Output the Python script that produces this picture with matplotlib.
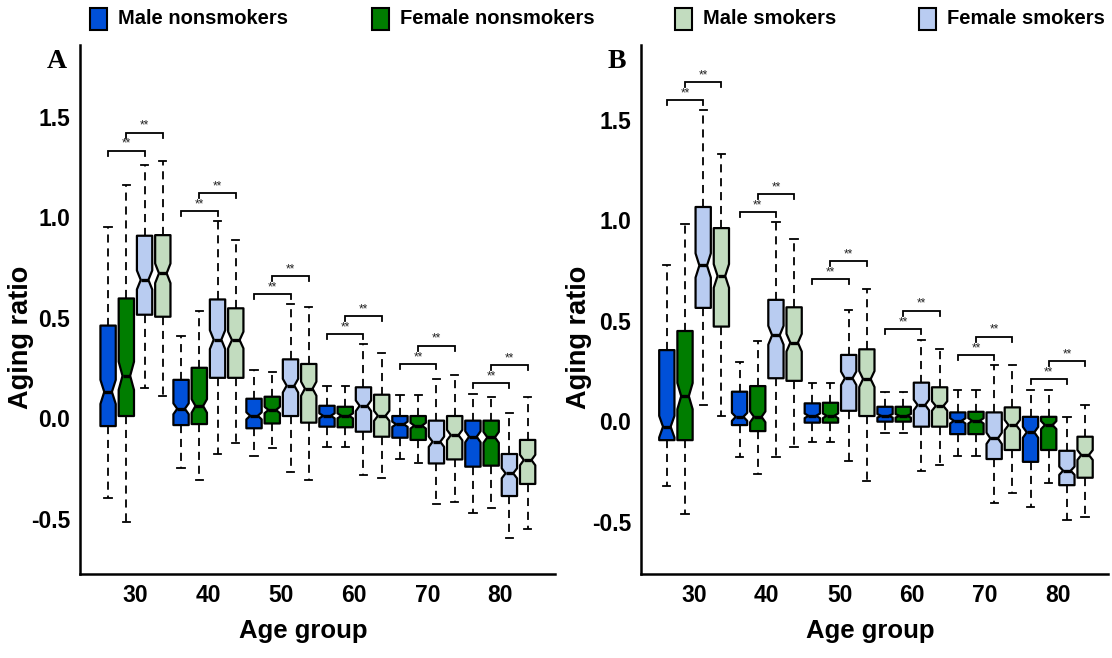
import matplotlib
matplotlib.use('Agg')
import matplotlib.pyplot as plt
from matplotlib.patches import Rectangle

# ---------------- data ----------------
age_groups = ['30', '40', '50', '60', '70', '80']
# each tuple: (whisker low, Q1, median, Q3, whisker high)
A_male_nonsmokers = [(-0.40, -0.04, 0.13, 0.46, 0.95), (-0.25, -0.035, 0.046, 0.19, 0.41),
                     (-0.19, -0.051, 0.011, 0.096, 0.239), (-0.143, -0.043, 0.011, 0.061, 0.161),
                     (-0.204, -0.098, -0.031, 0.01, 0.114), (-0.474, -0.242, -0.093, -0.013, 0.118)]
A_female_nonsmokers = [(-0.516, 0.01, 0.21, 0.595, 1.16), (-0.31, -0.03, 0.06, 0.25, 0.534),
                       (-0.151, -0.027, 0.04, 0.106, 0.23), (-0.146, -0.046, 0.011, 0.056, 0.161),
                       (-0.226, -0.109, -0.038, 0.01, 0.114), (-0.449, -0.237, -0.096, -0.013, 0.103)]
A_female_smokers = [(0.148, 0.514, 0.687, 0.907, 1.26), (-0.18, 0.2, 0.39, 0.59, 0.98),
                    (-0.27, 0.01, 0.161, 0.292, 0.567), (-0.284, -0.068, 0.061, 0.153, 0.368),
                    (-0.428, -0.226, -0.118, -0.013, 0.196), (-0.599, -0.388, -0.275, -0.179, 0.023)]
A_male_smokers = [(0.109, 0.504, 0.72, 0.91, 1.28), (-0.123, 0.2, 0.388, 0.546, 0.885),
                  (-0.308, -0.023, 0.146, 0.269, 0.554), (-0.297, -0.093, 0.011, 0.116, 0.322),
                  (-0.416, -0.206, -0.085, 0.01, 0.214), (-0.554, -0.328, -0.209, -0.109, 0.103)]

B_male_nonsmokers = [(-0.323, -0.095, -0.028, 0.353, 0.776), (-0.178, -0.02, 0.021, 0.146, 0.296),
                     (-0.103, -0.008, 0.026, 0.088, 0.188), (-0.061, -0.003, 0.026, 0.071, 0.146),
                     (-0.173, -0.065, 0.001, 0.043, 0.154), (-0.427, -0.203, -0.056, 0.021, 0.154)]
B_female_nonsmokers = [(-0.46, -0.095, 0.124, 0.448, 0.98), (-0.264, -0.05, 0.021, 0.174, 0.40),
                       (-0.103, -0.008, 0.026, 0.091, 0.188), (-0.061, -0.003, 0.026, 0.071, 0.146),
                       (-0.175, -0.065, 0.001, 0.046, 0.154), (-0.307, -0.144, -0.02, 0.021, 0.154)]
B_female_smokers = [(0.08, 0.563, 0.774, 1.065, 1.546), (-0.178, 0.213, 0.427, 0.603, 0.988),
                    (-0.198, 0.051, 0.213, 0.329, 0.553), (-0.247, -0.028, 0.08, 0.191, 0.404),
                    (-0.407, -0.189, -0.086, 0.043, 0.279), (-0.49, -0.319, -0.247, -0.148, 0.018)]
B_male_smokers = [(0.025, 0.47, 0.722, 0.96, 1.329), (-0.128, 0.2, 0.39, 0.566, 0.907),
                  (-0.299, 0.025, 0.209, 0.357, 0.656), (-0.219, -0.028, 0.075, 0.168, 0.357),
                  (-0.357, -0.144, -0.02, 0.068, 0.279), (-0.477, -0.282, -0.169, -0.078, 0.08)]

# significance bracket heights (box1-box3 and box2-box4)
A_bracket_low = [1.33, 1.03, 0.615, 0.418, 0.269, 0.173]
A_bracket_high = [1.42, 1.12, 0.706, 0.507, 0.36, 0.264]
B_bracket_low = [1.596, 1.04, 0.706, 0.458, 0.329, 0.209]
B_bracket_high = [1.687, 1.13, 0.794, 0.55, 0.42, 0.299]

legend_labels = ['Male nonsmokers', 'Female nonsmokers', 'Male smokers', 'Female smokers']
# ---------------- style ----------------
C_BLUE = '#0050D8'
C_GREEN = '#007D00'
C_LBLUE = '#B9CCF1'
C_LGREEN = '#C2DCBF'
legend_colors = [C_BLUE, C_GREEN, C_LGREEN, C_LBLUE]

plt.rcParams['font.family'] = ['Liberation Sans', 'DejaVu Sans']

W, H = 1112, 658
fig = plt.figure(figsize=(W / 100, H / 100), dpi=100)


def px_rect(l, r, t, b):
    return [l / W, (H - b) / H, (r - l) / W, (b - t) / H]


def draw_panel(ax, series, br_low, br_high, xlim, ylim, ylab_x, xlab_x):
    offsets = [-0.375, -0.125, 0.125, 0.375]
    colors = [C_BLUE, C_GREEN, C_LBLUE, C_LGREEN]
    bw = 0.21
    for k, (ser, col) in enumerate(zip(series, colors)):
        stats = []
        pos = []
        for g, (lo, q1, med, q3, hi) in enumerate(ser):
            iqr = q3 - q1
            half = 0.12 * iqr
            stats.append(dict(whislo=lo, q1=q1, med=med, q3=q3, whishi=hi,
                              cilo=med - half, cihi=med + half, fliers=[]))
            pos.append(g + 1 + offsets[k])
        ax.bxp(stats, positions=pos, widths=bw, capwidths=0.1, patch_artist=True,
               shownotches=True, showfliers=False,
               boxprops=dict(facecolor=col, edgecolor='black', linewidth=1.6, joinstyle='round'),
               whiskerprops=dict(color='black', linewidth=1.3, linestyle=(0, (4.5, 3.2))),
               capprops=dict(color='black', linewidth=1.3),
               medianprops=dict(color='black', linewidth=2.4, solid_capstyle='butt'),
               manage_ticks=False)
    # significance brackets
    tick = 0.025
    for g in range(len(br_low)):
        c = g + 1
        for (a, b), h in (((0, 2), br_low[g]), ((1, 3), br_high[g])):
            x1, x2 = c + offsets[a], c + offsets[b]
            ax.plot([x1, x1, x2, x2], [h - tick, h, h, h - tick], color='black', lw=1.3,
                    solid_joinstyle='miter')
            ax.text((x1 + x2) / 2, h + 0.004, '**', ha='center', va='bottom', fontsize=8.5,
                    color='#222222')
    ax.set_xlim(*xlim)
    ax.set_ylim(*ylim)
    ax.set_xticks(range(1, len(age_groups) + 1))
    ax.set_xticklabels(age_groups)
    ax.set_yticks([-0.5, 0.0, 0.5, 1.0, 1.5])
    ax.set_yticklabels(['-0.5', '0.0', '0.5', '1.0', '1.5'])
    ax.tick_params(axis='y', length=0, labelsize=16.5, pad=7)
    ax.tick_params(axis='x', length=0, labelsize=16.5, pad=7)
    for lab in ax.get_xticklabels() + ax.get_yticklabels():
        lab.set_fontweight('bold')
    for s in ('top', 'right'):
        ax.spines[s].set_visible(False)
    for s in ('left', 'bottom'):
        ax.spines[s].set_linewidth(1.8)
    ax.set_xlabel('Age group', fontsize=18.5, fontweight='bold')
    ax.set_ylabel('Aging ratio', fontsize=19.5, fontweight='bold')
    ax.yaxis.set_label_coords(ylab_x, 0.447)
    ax.xaxis.set_label_coords(xlab_x, -0.085)
    ax.set_facecolor('none')


axA = fig.add_axes(px_rect(80, 555, 45, 574))
draw_panel(axA, [A_male_nonsmokers, A_female_nonsmokers, A_female_smokers, A_male_smokers],
           A_bracket_low, A_bracket_high, (0.24, 6.75), (-0.776, 1.856), -0.097, 0.47)
axB = fig.add_axes(px_rect(641, 1108, 45, 574))
draw_panel(axB, [B_male_nonsmokers, B_female_nonsmokers, B_female_smokers, B_male_smokers],
           B_bracket_low, B_bracket_high, (0.27, 6.69), (-0.761, 1.871), -0.105, 0.49)

fig.text(57 / W, 1 - 62 / H, 'A', family=['Liberation Serif', 'DejaVu Serif'],
         fontsize=20, fontweight='bold', ha='center', va='center')
fig.text(617 / W, 1 - 62 / H, 'B', family=['Liberation Serif', 'DejaVu Serif'],
         fontsize=20, fontweight='bold', ha='center', va='center')

# legend across the top
leg_x = [90, 372, 675, 919]
for x0, lab, col in zip(leg_x, legend_labels, legend_colors):
    fig.patches.append(Rectangle((x0 / W, 1 - 30 / H), 17 / W, 22 / H, transform=fig.transFigure,
                                 facecolor=col, edgecolor='black', linewidth=1.5))
    fig.text((x0 + 28) / W, 1 - 19 / H, lab, fontsize=14.5, fontweight='bold',
             ha='left', va='center')

fig.savefig('out.png', dpi=100)
